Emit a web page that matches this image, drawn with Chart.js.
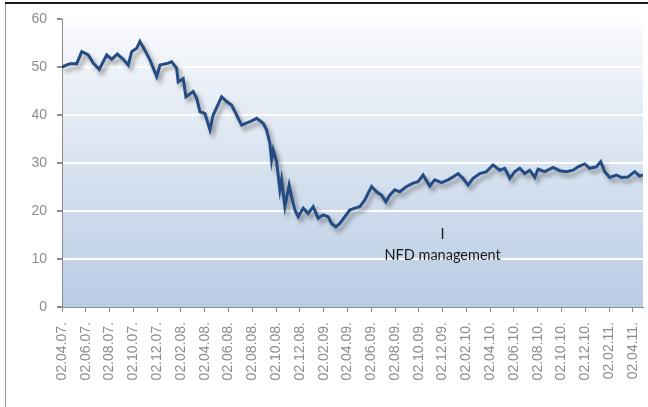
<!DOCTYPE html>
<html>
<head>
<meta charset="utf-8">
<script src="https://cdn.jsdelivr.net/npm/chart.js@4/dist/chart.umd.min.js"></script>
<style>
html,body{margin:0;padding:0;background:#fff;}
#wrap{width:648px;height:407px;position:relative;}
</style>
</head>
<body>
<div id="wrap"><canvas id="c" width="648" height="407"></canvas></div>
<script>
// Months elapsed since 02.04.07
const monthsX = [0,0.67,1.24,1.66,2.21,2.63,3.13,3.76,4.18,4.65,5.15,5.57,5.86,6.28,6.55,6.97,7.39,7.96,8.24,8.93,9.22,9.64,9.77,10.19,10.42,11.03,11.32,11.6,12.02,12.44,12.71,13.42,13.84,14.26,14.68,15.1,15.8,16.36,16.92,17.2,17.48,17.62,17.76,18.04,18.32,18.46,18.74,19.1,19.3,19.58,19.86,20.28,20.7,21.12,21.54,21.96,22.38,22.66,23.03,23.36,23.78,24.2,24.62,25.04,25.46,25.74,26.03,26.45,26.87,27.23,27.56,27.98,28.4,28.97,29.52,29.94,30.36,30.92,31.34,31.91,32.46,32.88,33.3,33.72,34.14,34.56,35.13,35.69,36.24,36.81,37.23,37.65,38.07,38.49,38.91,39.33,39.75,40.03,40.59,41.29,41.85,42.41,42.97,43.39,43.95,44.37,44.93,45.29,45.63,46.05,46.61,47.03,47.59,48.15,48.57,48.85];
const prices = [50.0,50.7,50.7,53.2,52.5,50.8,49.5,52.5,51.6,52.7,51.6,50.4,53.2,53.9,55.3,53.5,51.5,48.0,50.4,50.8,51.1,49.7,46.9,47.6,43.8,44.9,43.5,40.7,40.3,36.9,40.0,43.8,42.8,42.1,40.0,37.9,38.6,39.3,38.3,36.9,34.1,30.6,32.7,30.3,24.4,26.5,20.9,25.4,23.0,20.2,18.8,20.6,19.5,20.9,18.5,19.2,18.8,17.4,16.7,17.4,18.8,20.2,20.6,20.9,22.3,23.7,25.1,24.0,23.3,21.9,23.3,24.4,24.0,25.1,25.8,26.1,27.5,25.2,26.5,25.9,26.5,27.1,27.8,26.8,25.4,26.8,27.8,28.2,29.6,28.5,28.9,26.8,28.2,28.9,27.8,28.5,27.0,28.7,28.2,29.1,28.4,28.2,28.5,29.2,29.8,28.9,29.2,30.3,28.2,27.0,27.5,27.0,27.1,28.2,27.3,27.5];
const xTickLabels = ["02.04.07.","02.06.07.","02.08.07.","02.10.07.","02.12.07.","02.02.08.","02.04.08.","02.06.08.","02.08.08.","02.10.08.","02.12.08.","02.02.09.","02.04.09.","02.06.09.","02.08.09.","02.10.09.","02.12.09.","02.02.10.","02.04.10.","02.06.10.","02.08.10.","02.10.10.","02.12.10.","02.02.11.","02.04.11."];
const yTicks = [0,10,20,30,40,50,60];
const noteMarker = "I";
const noteText = "NFD management";
const noteX = 32.0;
const noteYMarker = 15.2;
const noteYText = 10.7;

const points = monthsX.map((m,i)=>({x:m,y:prices[i]}));

const bgPlugin = {
  id:'bg',
  beforeDraw(chart){
    const {ctx, chartArea:a} = chart;
    const g = ctx.createLinearGradient(0,a.top,0,a.bottom);
    g.addColorStop(0,'#ffffff');
    g.addColorStop(0.05,'#f6f8fc');
    g.addColorStop(1,'#b8cce4');
    ctx.save();
    ctx.fillStyle = g;
    ctx.fillRect(a.left,a.top,a.right-a.left,a.bottom-a.top);
    ctx.restore();
  },
  beforeDatasetsDraw(chart){
    const ctx = chart.ctx;
    ctx.save();
    ctx.shadowColor = 'rgba(60,60,60,0.5)';
    ctx.shadowBlur = 4;
    ctx.shadowOffsetX = 3;
    ctx.shadowOffsetY = 4;
  },
  afterDatasetsDraw(chart){
    chart.ctx.restore();
  },
  afterDraw(chart){
    const {ctx, scales} = chart;
    ctx.save();
    // frame
    ctx.fillStyle = '#1a1a1a';
    ctx.fillRect(5,2,643,2);
    ctx.fillStyle = '#9a9a9a';
    ctx.fillRect(5,4,1,403);
    // annotation
    ctx.fillStyle = '#1a1a1a';
    ctx.font = '14.5px Lato, "Open Sans", sans-serif';
    ctx.textAlign = 'center';
    ctx.textBaseline = 'middle';
    const px = scales.x.getPixelForValue(noteX);
    ctx.fillText(noteMarker, px, scales.y.getPixelForValue(noteYMarker));
    ctx.fillText(noteText, px, scales.y.getPixelForValue(noteYText));
    ctx.restore();
  }
};

new Chart(document.getElementById('c'), {
  type:'line',
  data:{datasets:[{
    data:points,
    borderColor:'#234c84',
    borderWidth:3,
    pointRadius:0,
    tension:0,
    fill:false
  }]},
  options:{
    responsive:false,
    animation:false,
    layout:{padding:{left:5,right:5,top:19,bottom:22}},
    plugins:{legend:{display:false},tooltip:{enabled:false}},
    scales:{
      x:{
        type:'linear',
        min:0,
        max:48.85,
        border:{color:'#8c8c8c',width:1},
        grid:{drawOnChartArea:false,drawTicks:true,tickLength:5,tickColor:'#8c8c8c'},
        ticks:{
          stepSize:2,
          includeBounds:false,
          autoSkip:false,
          minRotation:90,
          maxRotation:90,
          color:'#8c8c8c',
          font:{family:'"Liberation Sans", Arial, sans-serif',size:14},
          padding:10,
          callback:(v)=> (Number.isInteger(v) && v%2===0) ? xTickLabels[v/2] : ''
        },
        afterFit:(s)=>{ s.height = 78; s.paddingLeft = 0; s.paddingRight = 0; }
      },
      y:{
        min:0,
        max:60,
        border:{color:'#8c8c8c',width:1},
        grid:{color:(c)=> c.tick.value===0 ? 'rgba(0,0,0,0)' : '#ffffff',lineWidth:2,drawTicks:true,tickLength:5,tickColor:'#8c8c8c'},
        afterBuildTicks:(s)=>{ s.ticks = yTicks.map(v=>({value:v})); },
        ticks:{
          color:'#8c8c8c',
          font:{family:'"Liberation Sans", Arial, sans-serif',size:14},
          padding:10
        },
        afterFit:(s)=>{ s.width = 57; s.paddingTop = 0; s.paddingBottom = 0; }
      }
    }
  },
  plugins:[bgPlugin]
});
</script>
</body>
</html>
